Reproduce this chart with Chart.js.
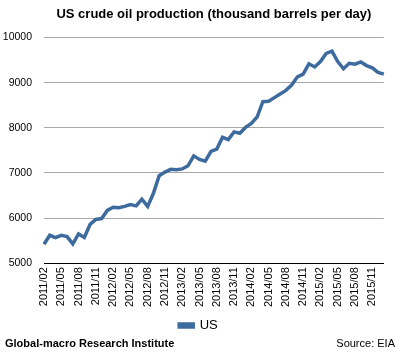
<!DOCTYPE html>
<html>
<head>
<meta charset="utf-8">
<script src="https://cdn.jsdelivr.net/npm/chart.js@4/dist/chart.umd.min.js"></script>
<style>
  html, body { margin: 0; padding: 0; background: #fff; }
  #wrap { position: relative; width: 401px; height: 358px; }
  .foot { position: absolute; top: 337px; font: 11px "Liberation Sans", Arial, sans-serif; color: #000; }
  #brand { left: 5px; font-weight: bold; }
  #source { right: 6px; }
</style>
</head>
<body>
<div id="wrap">
  <canvas id="oilChart" width="401" height="358"></canvas>
  <div class="foot" id="brand">Global-macro Research Institute</div>
  <div class="foot" id="source">Source: EIA</div>
</div>
<script>
// US crude oil production, thousand barrels per day (monthly)
const months = [
  '2011/02', '2011/03', '2011/04', '2011/05', '2011/06', '2011/07', '2011/08', '2011/09', '2011/10', '2011/11', '2011/12',
  '2012/01', '2012/02', '2012/03', '2012/04', '2012/05', '2012/06', '2012/07', '2012/08', '2012/09', '2012/10', '2012/11', '2012/12',
  '2013/01', '2013/02', '2013/03', '2013/04', '2013/05', '2013/06', '2013/07', '2013/08', '2013/09', '2013/10', '2013/11', '2013/12',
  '2014/01', '2014/02', '2014/03', '2014/04', '2014/05', '2014/06', '2014/07', '2014/08', '2014/09', '2014/10', '2014/11', '2014/12',
  '2015/01', '2015/02', '2015/03', '2015/04', '2015/05', '2015/06', '2015/07', '2015/08', '2015/09', '2015/10', '2015/11', '2015/12',
  '2016/01'
];

const usProduction = [
  5420, 5620, 5570, 5620, 5590, 5430, 5650, 5570, 5860, 5970, 5990,
  6170, 6240, 6230, 6260, 6300, 6270, 6420, 6260, 6550, 6940, 7020, 7080,
  7070, 7090, 7160, 7380, 7300, 7260, 7480, 7530, 7790, 7740, 7910, 7880,
  8010, 8100, 8240, 8580, 8590, 8670, 8750, 8830, 8950, 9130, 9190, 9420,
  9350, 9470, 9650, 9700, 9470, 9310, 9430, 9410, 9460, 9380, 9330, 9230,
  9190
];

const yTicks = [5000, 6000, 7000, 8000, 9000, 10000];

const lineColor = '#3e6b9e';
const font = "'Liberation Sans', Arial, sans-serif";

const ctx = document.getElementById('oilChart').getContext('2d');

new Chart(ctx, {
  type: 'line',
  data: {
    labels: months,
    datasets: [{
      label: 'US',
      data: usProduction,
      borderColor: lineColor,
      backgroundColor: lineColor,
      borderWidth: 3.5,
      pointRadius: 0,
      tension: 0
    }]
  },
  options: {
    responsive: false,
    animation: false,
    layout: { padding: { top: 1, right: 7, bottom: 16, left: 3 } },
    plugins: {
      title: {
        display: true,
        fullSize: false,
        text: 'US crude oil production (thousand barrels per day)',
        color: '#000',
        font: { family: font, size: 13, weight: 'bold' },
        padding: { top: 6, bottom: 15 }
      },
      legend: {
        display: true,
        position: 'bottom',
        labels: {
          color: '#000',
          font: { family: font, size: 13 },
          boxWidth: 14,
          boxHeight: 3,
          padding: 8
        }
      },
      tooltip: { enabled: false }
    },
    scales: {
      x: {
        offset: false,
        grid: { display: false, drawTicks: false },
        border: { display: true, color: '#000', width: 1 },
        ticks: {
          autoSkip: false,
          maxRotation: 90,
          minRotation: 90,
          padding: 4,
          color: '#000',
          font: { family: font, size: 11 },
          callback: function(value, index) {
            return index % 3 === 0 ? months[index] : '';
          }
        }
      },
      y: {
        min: yTicks[0],
        max: yTicks[yTicks.length - 1],
        afterBuildTicks: function(axis) {
          axis.ticks = yTicks.map(v => ({ value: v }));
        },
        afterFit: function(axis) {
          axis.width = 41;
        },
        grid: { color: '#a8a8a8', lineWidth: 1, drawTicks: false },
        border: { display: false },
        ticks: {
          padding: 12,
          color: '#000',
          font: { family: font, size: 10.5 },
          callback: function(value) {
            return String(value);
          }
        }
      }
    }
  }
});
</script>
</body>
</html>
